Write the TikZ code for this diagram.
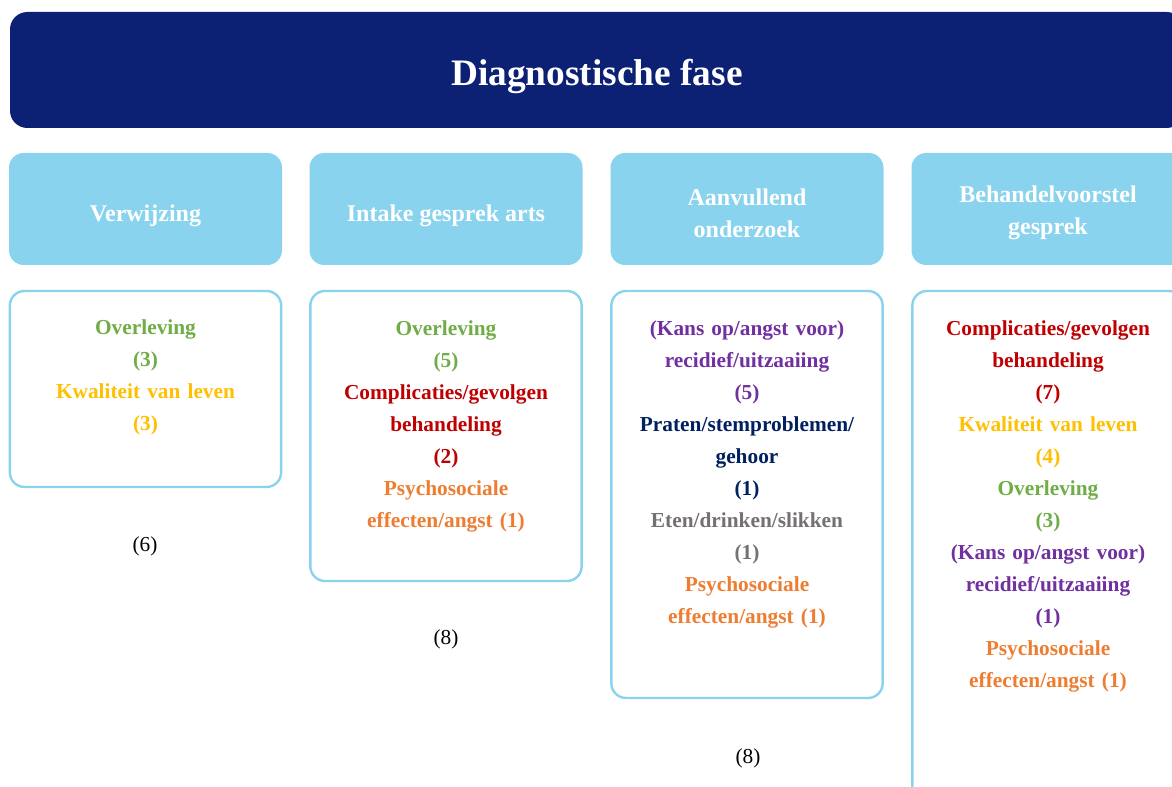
\documentclass[tikz,border=0pt]{standalone}
\usepackage{fontspec}
\setmainfont{Liberation Serif}
\usepackage{xcolor}

\definecolor{faseblue}{HTML}{0C2074}
\definecolor{stapblue}{HTML}{89D3EE}
\definecolor{ovgreen}{HTML}{70AD47}
\definecolor{kvgold}{HTML}{FFC000}
\definecolor{cgred}{HTML}{C00000}
\definecolor{psorange}{HTML}{ED7D31}
\definecolor{rcpurple}{HTML}{7030A0}
\definecolor{prnavy}{HTML}{002060}
\definecolor{etgray}{HTML}{767171}

\begin{document}
\begin{tikzpicture}[x=0.75pt,y=-0.75pt,
    fase box/.style={fill=faseblue,rounded corners=13pt,minimum width=880.5pt,minimum height=87pt},
    fase text/.style={text=white,font=\bfseries\fontsize{28}{34}\selectfont},
    stap box/.style={fill=stapblue,rounded corners=11pt,minimum width=204.75pt,minimum height=84pt},
    stap text/.style={text=white,align=center,font=\bfseries\fontsize{18}{24}\selectfont},
    item box/.style={draw=stapblue,line width=1.8pt,fill=white,rounded corners=11pt,minimum width=203.5pt},
    item text/.style={anchor=north,inner sep=0pt,text width=200pt,align=center,font=\bfseries\fontsize{16}{24}\selectfont},
    count node/.style={font=\fontsize{16}{20}\selectfont}]
    \useasboundingbox (0,0) rectangle (1172,787);
    \clip (0,0) rectangle (1172,787);

    % fase
    \node[fase box] (fase) at (597,70) {};
    \node[fase text] (fase title) at (597,76) {Diagnostische fase};

    % stappen
    \node[stap box] (verwijzing) at (145.5,209) {};
    \node[stap box] (intake) at (446,209) {};
    \node[stap box] (onderzoek) at (747,209) {};
    \node[stap box] (voorstel) at (1048,209) {};
    \node[stap text] (verwijzing title) at (145.5,216) {Verwijzing};
    \node[stap text] (intake title) at (446,216) {Intake gesprek arts};
    \node[stap text] (onderzoek title) at (747,213) {Aanvullend\\onderzoek};
    \node[stap text] (voorstel title) at (1048,213) {Behandelvoorstel\\gesprek};

    % kaders
    \node[item box,minimum height=147pt] (verwijzing box) at (145.5,389) {};
    \node[item box,minimum height=217.5pt] (intake box) at (446,436) {};
    \node[item box,minimum height=305.25pt] (onderzoek box) at (747,494.5) {};
    \node[item box,minimum height=389.25pt] (voorstel box) at (1048,550.5) {};

    % uitkomsten
    \node[item text] (verwijzing text) at (145.5,319) {\color{ovgreen}Overleving\\(3)\\
        \color{kvgold}Kwaliteit van leven\\(3)};
    \node[item text] (intake text) at (446,320) {\color{ovgreen}Overleving\\(5)\\
        \color{cgred}Complicaties/gevolgen\\behandeling\\(2)\\
        \color{psorange}Psychosociale\\effecten/angst (1)};
    \node[item text] (onderzoek text) at (747,320) {\color{rcpurple}(Kans op/angst voor)\\recidief/uitzaaiing\\(5)\\
        \color{prnavy}Praten/stemproblemen/\\gehoor\\(1)\\
        \color{etgray}Eten/drinken/slikken\\(1)\\
        \color{psorange}Psychosociale\\effecten/angst (1)};
    \node[item text] (voorstel text) at (1048,320) {\color{cgred}Complicaties/gevolgen\\behandeling\\(7)\\
        \color{kvgold}Kwaliteit van leven\\(4)\\
        \color{ovgreen}Overleving\\(3)\\
        \color{rcpurple}(Kans op/angst voor)\\recidief/uitzaaiing\\(1)\\
        \color{psorange}Psychosociale\\effecten/angst (1)};

    % aantallen
    \node[count node] (verwijzing n) at (145,546) {(6)};
    \node[count node] (intake n) at (446,639) {(8)};
    \node[count node] (onderzoek n) at (748,758) {(8)};
\end{tikzpicture}
\end{document}
